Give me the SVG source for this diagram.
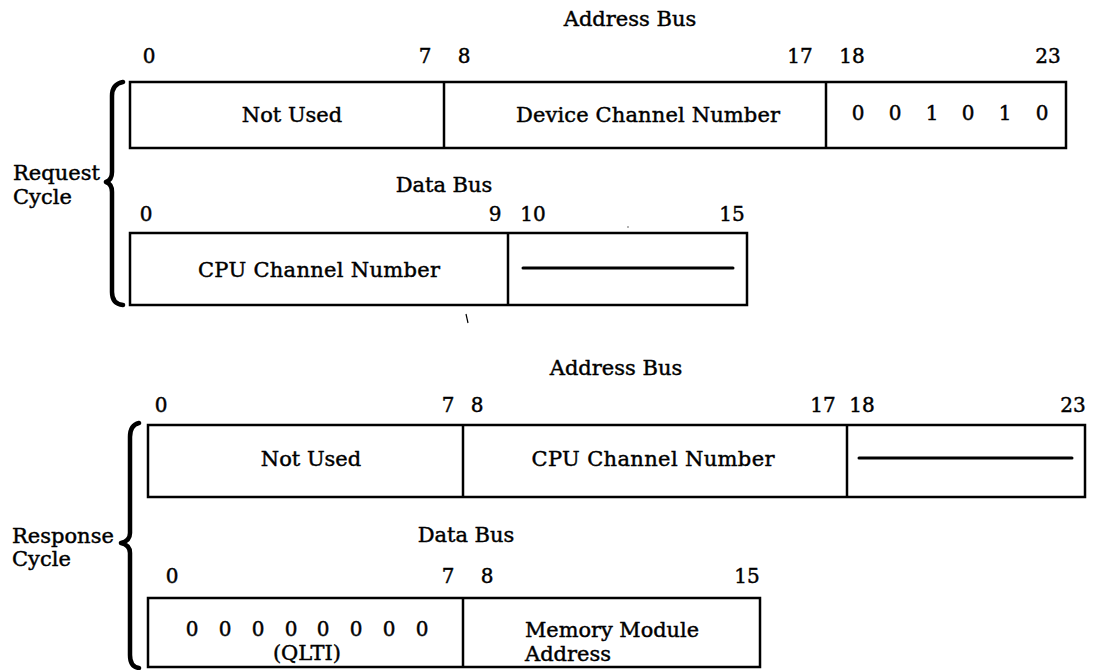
<svg xmlns="http://www.w3.org/2000/svg" width="1094" height="670" viewBox="0 0 1094 670">
<style>
text{font-family:"DejaVu Serif","Liberation Serif",serif;fill:#000;stroke:#000;stroke-width:0.45;font-size:21px}
.n{font-size:20px}
.c{text-anchor:middle}
.box{fill:#fff;stroke:#000;stroke-width:2.5}
.div{stroke:#000;stroke-width:2.5}
.dash{stroke:#000;stroke-width:3;stroke-linecap:round}
.brace{fill:none;stroke:#000;stroke-width:4.5;stroke-linejoin:round;stroke-linecap:round}
</style>
<rect width="1094" height="670" fill="#fff"/>

<g id="request-label">
<text x="13" y="180">Request</text>
<text x="13" y="204">Cycle</text>
<path class="brace" d="M123,82 Q112,84 112,96 L112,172 Q112,180 106,182 Q112,184 112,192 L112,292 Q112,304 123,305"/>
</g>

<g id="request-address">
<text class="c" x="630" y="26">Address Bus</text>
<text class="n c" x="149" y="63">0</text>
<text class="n c" x="425" y="63">7</text>
<text class="n c" x="464" y="63">8</text>
<text class="n c" x="800" y="63">17</text>
<text class="n c" x="852" y="63">18</text>
<text class="n c" x="1048" y="63">23</text>
<rect class="box" x="130" y="82" width="936" height="66"/>
<line class="div" x1="444" y1="82" x2="444" y2="148"/>
<line class="div" x1="826" y1="82" x2="826" y2="148"/>
<text class="c" x="292" y="122">Not Used</text>
<text class="c" x="648" y="122" textLength="264" lengthAdjust="spacing">Device Channel Number</text>
<text class="n c" x="858" y="120">0</text>
<text class="n c" x="895" y="120">0</text>
<text class="n c" x="932" y="120">1</text>
<text class="n c" x="968" y="120">0</text>
<text class="n c" x="1005" y="120">1</text>
<text class="n c" x="1042" y="120">0</text>
</g>

<g id="request-data">
<text class="c" x="444" y="192">Data Bus</text>
<text class="n c" x="146" y="221">0</text>
<text class="n c" x="495" y="221">9</text>
<text class="n c" x="533" y="221">10</text>
<text class="n c" x="732" y="221">15</text>
<rect class="box" x="130" y="233" width="617" height="72"/>
<line class="div" x1="508" y1="233" x2="508" y2="305"/>
<text class="c" x="319" y="277" textLength="242" lengthAdjust="spacing">CPU Channel Number</text>
<line class="dash" x1="523" y1="268" x2="733" y2="268"/>
<line x1="466" y1="314" x2="468" y2="323" stroke="#000" stroke-width="1.2"/>
<circle cx="628" cy="227" r="0.8" fill="#555"/>
</g>

<g id="response-label">
<text x="12" y="543">Response</text>
<text x="12" y="566">Cycle</text>
<path class="brace" d="M139,423 Q130,425 130,437 L130,533 Q130,541 121,543 Q130,545 130,553 L130,655 Q130,667 139,668"/>
</g>

<g id="response-address">
<text class="c" x="616" y="375">Address Bus</text>
<text class="n c" x="161" y="412">0</text>
<text class="n c" x="448" y="412">7</text>
<text class="n c" x="477" y="412">8</text>
<text class="n c" x="823" y="412">17</text>
<text class="n c" x="862" y="412">18</text>
<text class="n c" x="1073" y="412">23</text>
<rect class="box" x="148" y="425" width="937" height="72"/>
<line class="div" x1="463" y1="425" x2="463" y2="497"/>
<line class="div" x1="847" y1="425" x2="847" y2="497"/>
<text class="c" x="311" y="466">Not Used</text>
<text class="c" x="653" y="466" textLength="243" lengthAdjust="spacing">CPU Channel Number</text>
<line class="dash" x1="859" y1="458" x2="1072" y2="458"/>
</g>

<g id="response-data">
<text class="c" x="466" y="542">Data Bus</text>
<text class="n c" x="172" y="583">0</text>
<text class="n c" x="448" y="583">7</text>
<text class="n c" x="487" y="583">8</text>
<text class="n c" x="747" y="583">15</text>
<rect class="box" x="148" y="598" width="612" height="69"/>
<line class="div" x1="463" y1="598" x2="463" y2="667"/>
<text class="n c" x="192" y="636">0</text>
<text class="n c" x="225" y="636">0</text>
<text class="n c" x="258" y="636">0</text>
<text class="n c" x="291" y="636">0</text>
<text class="n c" x="323" y="636">0</text>
<text class="n c" x="356" y="636">0</text>
<text class="n c" x="389" y="636">0</text>
<text class="n c" x="422" y="636">0</text>
<text class="c" x="307" y="660">(QLTI)</text>
<text x="525" y="637" textLength="174" lengthAdjust="spacingAndGlyphs">Memory Module</text>
<text x="525" y="661">Address</text>
</g>
</svg>
